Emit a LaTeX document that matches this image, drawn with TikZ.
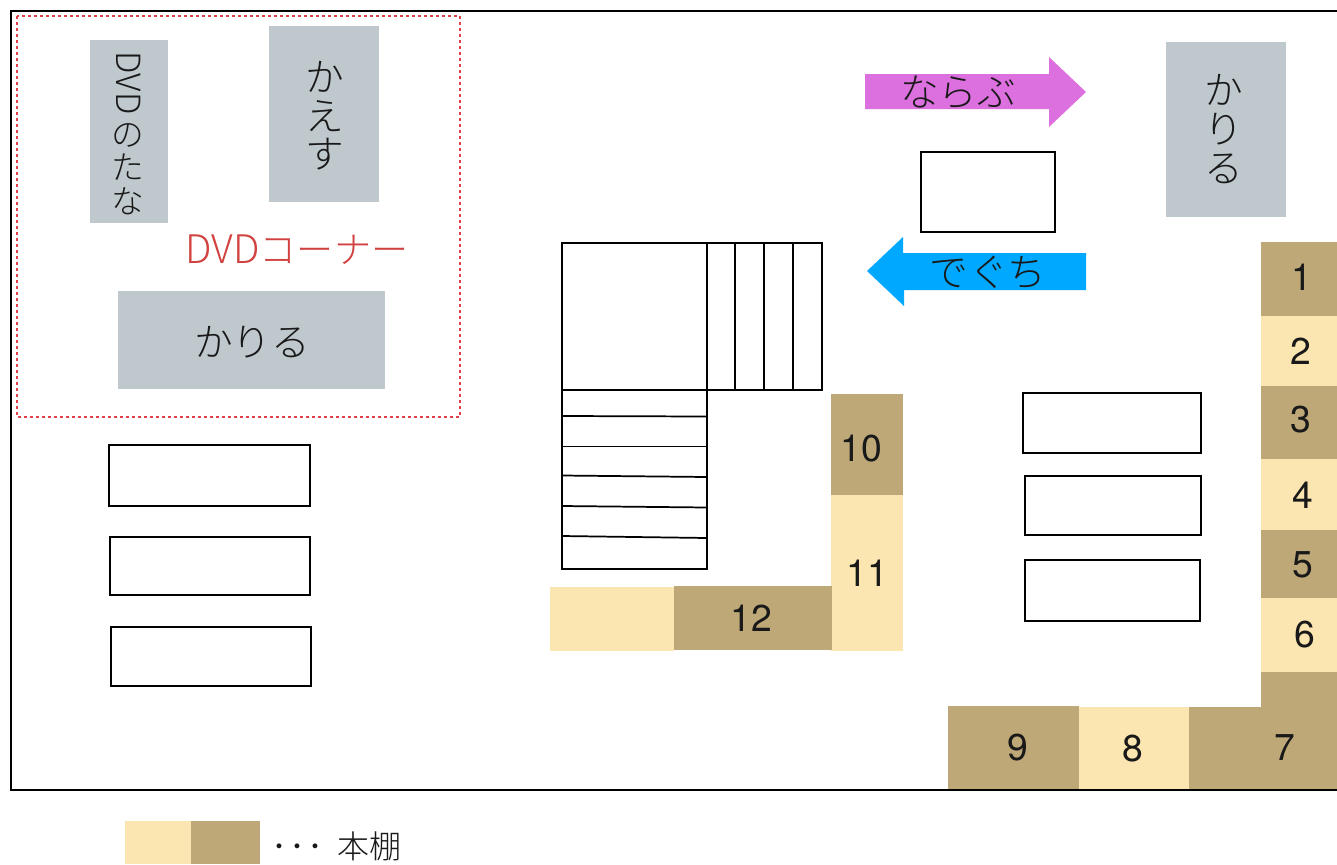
\documentclass[tikz,border=0pt]{standalone}
\usepackage{fontspec}
\usepackage{graphicx}
\setmainfont{TeX Gyre Heros}
\newfontfamily\jp{Noto Sans CJK JP Light}
\definecolor{lightshelf}{HTML}{FBE5B0}
\definecolor{darkshelf}{HTML}{BEA878}
\definecolor{greybox}{HTML}{BFC8CC}
\definecolor{pinkarrow}{HTML}{DD70DF}
\definecolor{bluearrow}{HTML}{00A9FF}
\definecolor{redtext}{HTML}{D0413F}
\definecolor{reddash}{HTML}{E0404A}
\tikzset{
  x=0.75pt,y=-0.75pt,
  outline/.style={draw=black,line width=1.3pt,fill=white},
  stairline/.style={draw=black,line width=1.3pt},
  num/.style={inner sep=0pt,font=\fontsize{28}{28}\selectfont,text=black!90},
  kana/.style={inner sep=0pt,font=\jp\fontsize{29}{29}\selectfont,text=black!90,align=center},
  smallkana/.style={inner sep=0pt,font=\jp\fontsize{24.5}{25}\selectfont,text=black!90,align=center},
}
\begin{document}
\begin{tikzpicture}
\useasboundingbox (0,0) rectangle (1337,864);
\fill[white] (0,0) rectangle (1337,864);
% shelves
\fill[darkshelf] (1261,242) rectangle (1337,316);
\fill[lightshelf] (1261,316) rectangle (1337,386);
\fill[darkshelf] (1261,386) rectangle (1337,459);
\fill[lightshelf] (1261,459) rectangle (1337,530);
\fill[darkshelf] (1261,530) rectangle (1337,598);
\fill[lightshelf] (1261,598) rectangle (1337,672);
\fill[darkshelf] (1261,672) -- (1337,672) -- (1337,789) -- (1189,789) -- (1189,707) -- (1261,707) -- cycle;
\fill[lightshelf] (1079,707) rectangle (1189,789);
\fill[darkshelf] (948,706) rectangle (1079,789);
\fill[darkshelf] (831,394) rectangle (903,495);
\fill[lightshelf] (831,495) rectangle (903,651);
\fill[lightshelf] (550,587) rectangle (674,651);
\fill[darkshelf] (674,586) rectangle (832,650);
% frame
\draw[black,line width=1.5pt] (1337,11) -- (11,11) -- (11,790) -- (1337,790);
\draw[reddash,line width=1.5pt,dash pattern=on 2.2pt off 2.3pt] (17,16) rectangle (460,417);
% grey boxes
\fill[greybox] (90,40) rectangle (168,223);
\fill[greybox] (269,26) rectangle (379,202);
\fill[greybox] (118,291) rectangle (385,389);
\fill[greybox] (1166,42) rectangle (1286,217);
% arrows
\fill[pinkarrow] (865,74) -- (1049,74) -- (1049,57) -- (1086,92) -- (1049,127) -- (1049,109) -- (865,109) -- cycle;
\fill[bluearrow] (1086,253) -- (903,253) -- (903,237) -- (867,271) -- (904,306) -- (904,290) -- (1086,290) -- cycle;
% white tables
\draw[outline] (921,152) rectangle (1055,232);
\draw[outline] (109,445) rectangle (310,506);
\draw[outline] (110,537) rectangle (310,595);
\draw[outline] (111,627) rectangle (311,686);
\draw[outline] (1023,393) rectangle (1201,453);
\draw[outline] (1025,476) rectangle (1201,535);
\draw[outline] (1025,560) rectangle (1200,621);
% stairs
\draw[outline] (562,243) rectangle (707,390);
\draw[outline] (707,243) rectangle (822,390);
\draw[outline] (562,390) rectangle (707,569);
\draw[stairline] (735,243) -- (735,390);
\draw[stairline] (764,243) -- (764,390);
\draw[stairline] (793,243) -- (793,390);
\draw[stairline] (562,416) -- (707,416.5);
\draw[stairline] (562,446.5) -- (707,446.5);
\draw[stairline] (562,475.5) -- (707,477);
\draw[stairline] (562,506) -- (707,507.5);
\draw[stairline] (562,536) -- (707,538);
% numbers
\node[num] (n1) at (1302,277) {1};
\node[num] (n2) at (1301,351) {2};
\node[num] (n3) at (1301,420) {3};
\node[num] (n4) at (1303,495) {4};
\node[num] (n5) at (1303,565) {5};
\node[num] (n6) at (1305,635) {6};
\node[num] (n7) at (1285,748) {7};
\node[num] (n8) at (1133,749) {8};
\node[num] (n9) at (1018,748) {9};
\node[num] (n10) at (861,449) {10};
\node[num] (n11) at (867,573) {11};
\node[num] (n12) at (751,618) {12};
% labels
\node[inner sep=0pt,rotate=-90,font=\jp\fontsize{25}{25}\selectfont,text=black!90] (dvdword) at (129,83) {DVD};
\node[smallkana] (dvdkana) at (128,169) {の\\た\\な};
\node[kana] (kaesu) at (325,116) {か\\え\\す};
\node[kana] (kariru1) at (252,342) {かりる};
\node[kana] (kariru2) at (1224,129) {か\\り\\る};
\node[kana] (narabu) at (958,92) {ならぶ};
\node[kana] (deguchi) at (988,272) {でぐち};
\node[inner sep=0pt,text=redtext,font=\jp\fontsize{29.5}{30}\selectfont] (corner) at (297,250) {DVD{\fontsize{27.8}{30}\selectfont コーナー}};
% legend
\fill[lightshelf] (125,821) rectangle (191,864);
\fill[darkshelf] (191,821) rectangle (260,864);
\node[inner sep=0pt,font=\jp\fontsize{24}{24}\selectfont,text=black!90] (dots) at (297.5,851) {･\hspace{1.2pt}･\hspace{1.2pt}･};
\node[inner sep=0pt,font=\jp\fontsize{24}{24}\selectfont,text=black!90,anchor=west] (legend) at (337,846) {本棚};
\end{tikzpicture}
\end{document}
